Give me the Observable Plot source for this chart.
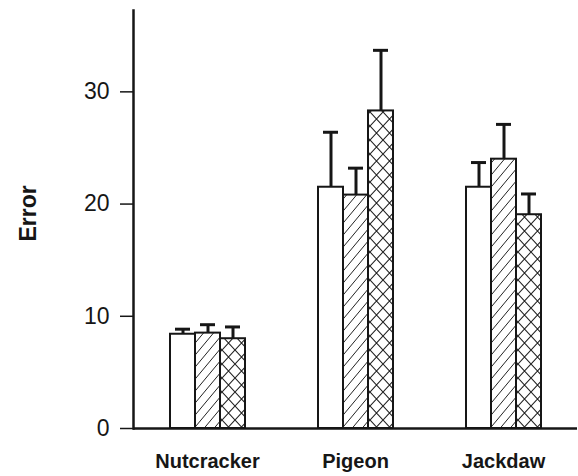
<!DOCTYPE html>
<html>
<head>
<meta charset="utf-8">
<script src="https://cdn.jsdelivr.net/npm/d3@7"></script>
<script src="https://cdn.jsdelivr.net/npm/@observablehq/plot@0.6"></script>
<style>
  html, body { margin: 0; padding: 0; background: #fff; }
  #chart svg { display: block; }
</style>
</head>
<body>
<svg width="0" height="0" style="position:absolute">
  <defs>
    <pattern id="hatch" patternUnits="userSpaceOnUse" width="10" height="12">
      <rect width="10" height="12" fill="#fff"/>
      <path d="M0,12 L10,0 M-2,2.4 L2,-2.4 M8,14.4 L12,9.6" stroke="#222" stroke-width="1"/>
    </pattern>
    <pattern id="cross" patternUnits="userSpaceOnUse" width="13" height="14">
      <rect width="13" height="14" fill="#fff"/>
      <path d="M0,0 L13,14 M13,0 L0,14" stroke="#222" stroke-width="1.1"/>
    </pattern>
  </defs>
</svg>
<div id="chart"></div>
<script>
const groups = ["Nutcracker", "Pigeon", "Jackdaw"];
const conditions = ["1", "2", "3"];
const nutcrackerMean = [8.4, 8.5, 8.0];
const nutcrackerErr = [0.45, 0.75, 1.05];
const pigeonMean = [21.5, 20.8, 28.3];
const pigeonErr = [4.9, 2.4, 5.4];
const jackdawMean = [21.5, 24.0, 19.05];
const jackdawErr = [2.2, 3.1, 1.85];
const yTicks = [0, 10, 20, 30];
const yLabel = "Error";

const means = [nutcrackerMean, pigeonMean, jackdawMean];
const errs = [nutcrackerErr, pigeonErr, jackdawErr];
const data = [];
groups.forEach((g, i) => conditions.forEach((c, j) => {
  data.push({group: g, cond: c, mean: means[i][j], upper: means[i][j] + errs[i][j]});
}));

const chart = Plot.plot({
  width: 578,
  height: 476,
  marginLeft: 132,
  marginRight: 0,
  marginTop: 10,
  marginBottom: 48,
  style: {fontFamily: "'Liberation Sans', Arial, Helvetica, sans-serif", color: "#161616", background: "#fff"},
  fx: {domain: groups, padding: 0, label: null},
  x: {domain: conditions, paddingInner: 0, paddingOuter: 1.39, axis: null},
  y: {domain: [0, 37.25], label: null},
  color: {domain: conditions, range: ["#fff", "url(#hatch)", "url(#cross)"]},
  marks: [
    Plot.axisY({ticks: yTicks, tickSize: 13, tickPadding: 11, fontSize: 23, label: null, strokeWidth: 1.5}),
    Plot.axisFx({anchor: "bottom", tickSize: 0, tickPadding: 25, fontSize: 20, fontWeight: "bold", label: null}),
    Plot.text([yLabel], {frameAnchor: "left", rotate: -90, dx: -105, dy: 22, fontSize: 23, fontWeight: "bold", facetAnchor: "left"}),
    Plot.ruleX(data, {fx: "group", x: "cond", y1: "mean", y2: "upper", strokeWidth: 3, stroke: "#161616"}),
    Plot.tickY(data, {fx: "group", x: "cond", y: "upper", insetLeft: 5, insetRight: 5, strokeWidth: 3, stroke: "#161616"}),
    Plot.barY(data, {fx: "group", x: "cond", y: "mean", fill: "cond", stroke: "#161616", strokeWidth: 2, inset: 0}),
    Plot.ruleY([0], {strokeWidth: 2.5, stroke: "#161616"}),
    Plot.frame({anchor: "left", facetAnchor: "left", strokeWidth: 2.5, stroke: "#161616"})
  ]
});
document.getElementById("chart").appendChild(chart);
</script>
</body>
</html>
